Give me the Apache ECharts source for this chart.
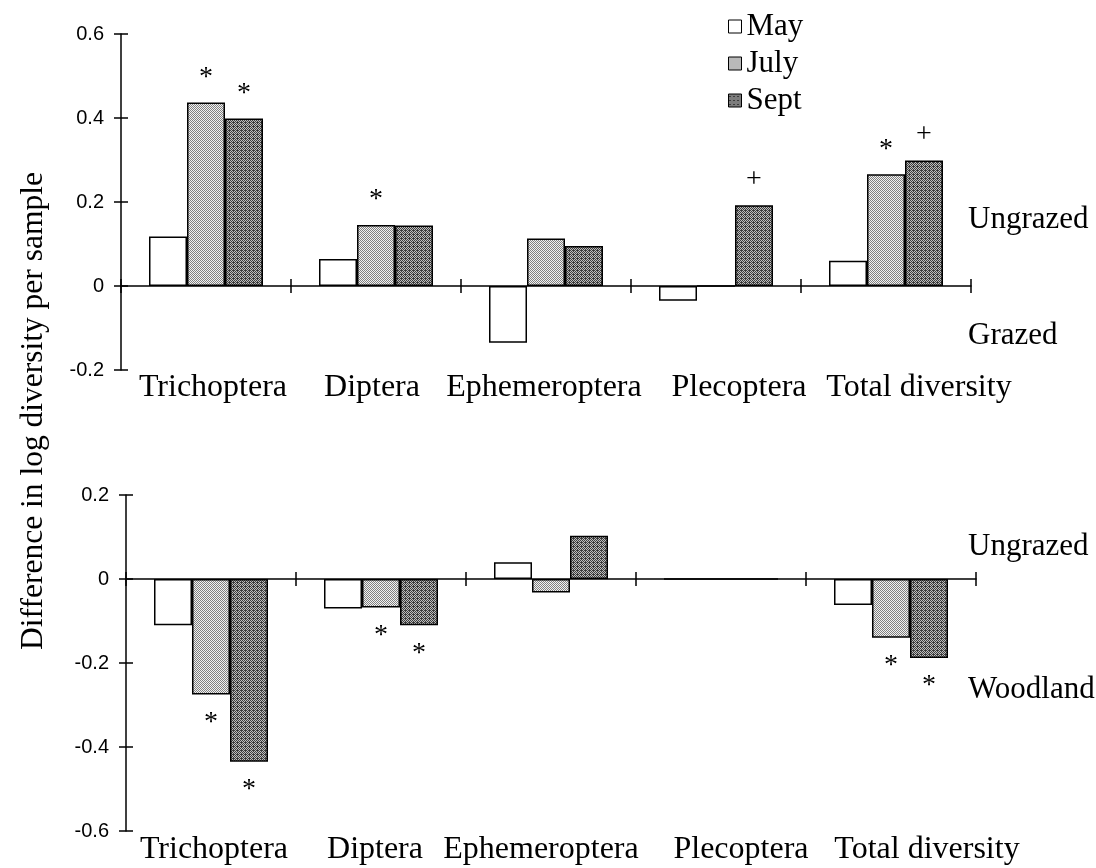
<!DOCTYPE html>
<html><head><meta charset="utf-8">
<script src="https://cdn.jsdelivr.net/npm/echarts@6/dist/echarts.min.js"></script>
<style>html,body{margin:0;padding:0;background:#fff}#c{width:1096px;height:868px}</style>
</head><body><div id="c"></div>
<script>
// ---------- data ----------
const categories = ['Trichoptera', 'Diptera', 'Ephemeroptera', 'Plecoptera', 'Total diversity'];
const seriesNames = ['May', 'July', 'Sept'];
// Upper panel: Ungrazed vs Grazed
const topMay  = [0.118, 0.064, -0.135, -0.035, 0.060];
const topJuly = [0.437, 0.145, 0.113, 0.000, 0.266];
const topSept = [0.399, 0.144, 0.095, 0.192, 0.299];
// Lower panel: Ungrazed vs Woodland
const botMay  = [-0.110, -0.070, 0.040, 0.000, -0.062];
const botJuly = [-0.275, -0.068, -0.032, 0.000, -0.140];
const botSept = [-0.435, -0.110, 0.103, 0.000, -0.188];
// significance marks
const topSigMay  = ['', '', '', '', ''];
const topSigJuly = ['*', '*', '', '', '*'];
const topSigSept = ['*', '', '', '+', '+'];
const botSigMay  = ['', '', '', '', ''];
const botSigJuly = ['*', '*', '', '', '*'];
const botSigSept = ['*', '*', '', '', '*'];
// tick labels
const topTicks = ['-0.2', '0', '0.2', '0.4', '0.6'];
const botTicks = ['-0.6', '-0.4', '-0.2', '0', '0.2'];

// ---------- styles ----------
const SERIF = "'Liberation Serif', 'Times New Roman', serif";
const SANS = "'Liberation Sans', Arial, sans-serif";
const topLabelShift = [7, -4, -2, 23, 33];
const botLabelShift = [3, -6, -10, 20, 36];

function makePattern(dark, light, fn) {
  const c = document.createElement('canvas');
  c.width = 4; c.height = 4;
  const g = c.getContext('2d');
  for (let y = 0; y < 4; y++) for (let x = 0; x < 4; x++) {
    g.fillStyle = fn(x, y) ? dark : light;
    g.fillRect(x, y, 1, 1);
  }
  return { image: c, repeat: 'repeat' };
}
const julyFill = makePattern('#808080', '#f2f2f2', (x, y) => (x + y) % 2 === 0);
const septFill = makePattern('#3c3c3c', '#bdbdbd', (x, y) => (x + y) % 2 === 0 || (x % 4 === 1 && y % 4 === 2));
const fills = ['#ffffff', julyFill, septFill];

function richFor(shifts) {
  const r = {};
  shifts.forEach((s, i) => {
    r['s' + i] = {
      fontFamily: SERIF, fontSize: 32, color: '#000',
      padding: s >= 0 ? [0, 0, 0, 2 * s] : [0, -2 * s, 0, 0]
    };
  });
  return r;
}

function fmtTick(v) {
  if (Math.abs(v) < 1e-9) return '0';
  return String(+v.toFixed(1));
}

function makeXAxes(grid, yBase, shifts, margin) {
  const tick = { show: true, length: 7, interval: 0, lineStyle: { color: '#000', width: 1.5 } };
  return [
    { type: 'category', gridIndex: grid, data: categories, position: 'bottom',
      axisLine: { show: true, onZero: true, onZeroAxisIndex: yBase, lineStyle: { color: '#000', width: 1.5 } },
      axisTick: tick, axisLabel: { show: false }, splitLine: { show: false } },
    { type: 'category', gridIndex: grid, data: categories, position: 'top',
      axisLine: { show: true, onZero: true, onZeroAxisIndex: yBase + 1, lineStyle: { color: '#000', width: 1.5, opacity: 0 } },
      axisTick: tick, axisLabel: { show: false }, splitLine: { show: false } },
    { type: 'category', gridIndex: grid, data: categories, position: 'bottom',
      axisLine: { show: false, onZero: false }, axisTick: { show: false }, splitLine: { show: false },
      axisLabel: { show: true, interval: 0, margin: margin, color: '#000',
        formatter: (v, i) => '{s' + i + '|' + v + '}', rich: richFor(shifts) } }
  ];
}

function makeYAxes(grid, ticks) {
  const mn = parseFloat(ticks[0]), mx = parseFloat(ticks[ticks.length - 1]);
  return [
    { type: 'value', gridIndex: grid, position: 'left', min: mn, max: mx, interval: 0.2,
      axisLine: { show: true, onZero: false, lineStyle: { color: '#000', width: 1.5 } },
      axisTick: { show: true, length: 7, lineStyle: { color: '#000', width: 1.5 } },
      axisLabel: { show: true, margin: 17, color: '#000', fontFamily: SANS, fontSize: 20, formatter: fmtTick },
      splitLine: { show: false } },
    { type: 'value', gridIndex: grid, position: 'left', min: mn, max: mx, interval: 0.2,
      axisLine: { show: true, onZero: false, lineStyle: { color: '#000', width: 1.5, opacity: 0 } },
      axisTick: { show: true, inside: true, length: 7, lineStyle: { color: '#000', width: 1.5 } },
      axisLabel: { show: false }, splitLine: { show: false } }
  ];
}

function barSeries(name, idx, values, sigs, xIdx, yIdx) {
  return {
    type: 'bar', name: name, xAxisIndex: xIdx, yAxisIndex: yIdx,
    barWidth: 38, barGap: '0%',
    itemStyle: { color: fills[idx], borderColor: '#000', borderWidth: 1.5 },
    emphasis: { disabled: true },
    data: values.map((v, i) => ({
      value: v,
      label: {
        show: sigs[i] !== '',
        formatter: sigs[i],
        position: 'outside',
        distance: v >= 0 ? (sigs[i] === '+' ? 12 : 11) : 14,
        fontFamily: SERIF, fontSize: 28, lineHeight: 28, color: '#000'
      }
    }))
  };
}

const series = [
  barSeries('May', 0, topMay, topSigMay, 0, 0),
  barSeries('July', 1, topJuly, topSigJuly, 0, 0),
  barSeries('Sept', 2, topSept, topSigSept, 0, 0),
  barSeries('May', 0, botMay, botSigMay, 3, 2),
  barSeries('July', 1, botJuly, botSigJuly, 3, 2),
  barSeries('Sept', 2, botSept, botSigSept, 3, 2)
];

const sideText = (t, x, y) => ({ type: 'text', left: x, top: y, style: { text: t, fontFamily: SERIF, fontSize: 31, fill: '#000' } });

const option = {
  backgroundColor: '#fff',
  animation: false,
  grid: [
    { left: 121, top: 34, width: 850, height: 336 },
    { left: 126, top: 495, width: 850, height: 336 }
  ],
  xAxis: [].concat(makeXAxes(0, 0, topLabelShift, 2), makeXAxes(1, 2, botLabelShift, 3)),
  yAxis: [].concat(makeYAxes(0, topTicks), makeYAxes(1, botTicks)),
  legend: {
    data: seriesNames, orient: 'vertical', left: 728, top: 11,
    icon: 'rect', itemWidth: 13, itemHeight: 13, itemGap: 6, padding: 0,
    itemStyle: { borderColor: '#000', borderWidth: 1 },
    textStyle: { fontFamily: SERIF, fontSize: 31, color: '#000', lineHeight: 31 },
    selectedMode: false
  },
  graphic: [
    sideText('Ungrazed', 968, 204),
    sideText('Grazed', 968, 320),
    sideText('Ungrazed', 968, 531),
    sideText('Woodland', 968, 674),
    { type: 'text', x: 34, y: 411, rotation: Math.PI / 2,
      style: { text: 'Difference in log diversity per sample', fontFamily: SERIF, fontSize: 31.5,
               fill: '#000', align: 'center', verticalAlign: 'middle' } }
  ],
  series: series
};

const chart = echarts.init(document.getElementById('c'), null, { renderer: 'canvas' });
chart.setOption(option);
</script>
</body></html>
